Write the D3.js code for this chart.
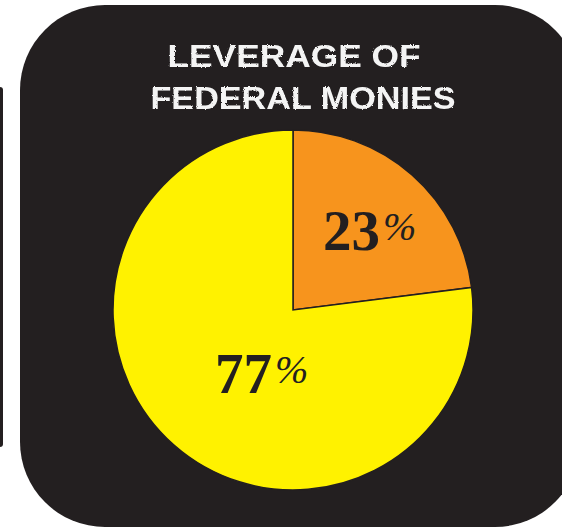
<!DOCTYPE html>
<html><head><meta charset="utf-8">
<script src="https://cdn.jsdelivr.net/npm/d3@7"></script>
<style>html,body{margin:0;padding:0;background:#fff;}svg{display:block;}</style>
</head><body>
<svg id="c" width="562" height="529"></svg>
<script>
const titleLines = ["LEVERAGE OF", "FEDERAL MONIES"];
const categories = ["Federal", "Other"];
const values = [23, 77];
const labels = ["23", "77"];
const colors = ["#F7941D", "#FFF200"];

const svg = d3.select("#c");
const defs = svg.append("defs");
const f = defs.append("filter").attr("id","chalk").attr("x","-5%").attr("y","-20%").attr("width","110%").attr("height","140%");
f.append("feTurbulence").attr("type","fractalNoise").attr("baseFrequency","0.9").attr("numOctaves","2").attr("result","n");
f.append("feDisplacementMap").attr("in","SourceGraphic").attr("in2","n").attr("scale","2.5");

// left fragment of neighbouring panel
svg.append("rect").attr("x",-4).attr("y",87).attr("width",7).attr("height",360).attr("rx",3).attr("fill","#231F20");
// main panel
svg.append("rect").attr("x",20).attr("y",5).attr("width",560).attr("height",522).attr("rx",85).attr("ry",85).attr("fill","#231F20");

// title
svg.append("g").selectAll("text").data(titleLines).join("text")
  .attr("x",(d,i)=> i===0 ? 294 : 303)
  .attr("y",(d,i)=> i===0 ? 67 : 109)
  .attr("text-anchor","middle")
  .attr("font-family","'Liberation Sans', Arial, sans-serif")
  .attr("font-size",32)
  .attr("font-weight","bold")
  .attr("fill","#F4F4F4")
  .attr("textLength",(d,i)=> i===0 ? 253 : 305)
  .attr("lengthAdjust","spacingAndGlyphs")
  .attr("filter","url(#chalk)")
  .text(d=>d);

const cx = 293, cy = 310, R = 180;
const pie = d3.pie().sort(null).value(d=>d)(values);
const arc = d3.arc().innerRadius(0).outerRadius(R);
const g = svg.append("g").attr("transform",`translate(${cx},${cy})`);
g.selectAll("path").data(pie).join("path")
  .attr("d",arc)
  .attr("fill",(d,i)=>colors[i])
  .attr("stroke","#231F20").attr("stroke-width",1.5).attr("stroke-linejoin","miter");

const labelR = [110, 70];
const offs = [[4,23],[15,30]];
const lt = g.selectAll("text.lbl").data(pie).join("text").attr("class","lbl")
  .attr("transform",(d,i)=>{
    const a = d3.arc().innerRadius(labelR[i]).outerRadius(labelR[i]).centroid(d);
    return `translate(${a[0]+offs[i][0]},${a[1]+offs[i][1]})`;
  })
  .attr("text-anchor","middle")
  .attr("fill","#231F20")
  .attr("font-family","'Liberation Serif', 'Times New Roman', serif");
lt.append("tspan").attr("font-weight","bold").attr("font-size",57).text((d,i)=>labels[i]);
lt.append("tspan").attr("font-style","italic").attr("font-size",40).attr("dx",3).attr("dy",-10).text("%");
</script>
</body></html>
